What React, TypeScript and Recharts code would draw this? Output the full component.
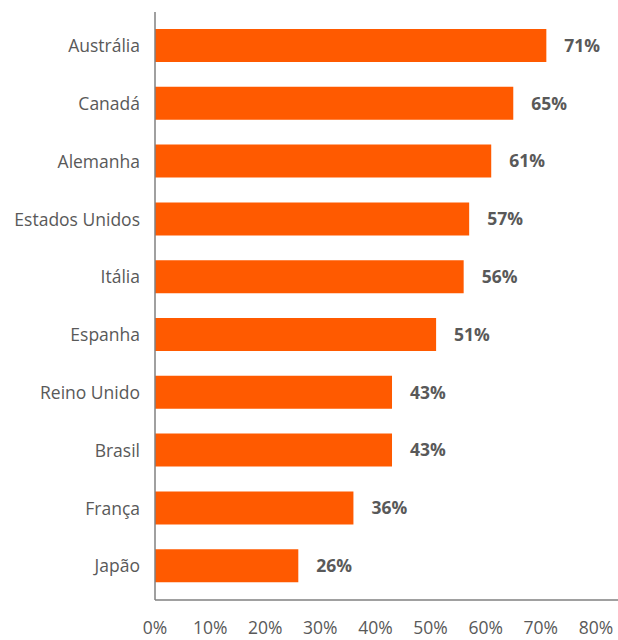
import { BarChart, Bar, XAxis, YAxis, LabelList } from 'recharts';

const countries = [
  'Austrália',
  'Canadá',
  'Alemanha',
  'Estados Unidos',
  'Itália',
  'Espanha',
  'Reino Unido',
  'Brasil',
  'França',
  'Japão',
];
const shares = [71, 65, 61, 57, 56, 51, 43, 43, 36, 26];
const xTicks = [0, 10, 20, 30, 40, 50, 60, 70, 80];

const data = countries.map((name, i) => ({ name, value: shares[i] }));

const FONT = '"Open Sans", "Noto Sans", sans-serif';

export default function App() {
  return (
    <div style={{ position: 'absolute', left: 0, top: 0, width: 618, height: 640, background: '#fff', fontFamily: FONT }}>
      <BarChart
        width={618}
        height={640}
        data={data}
        layout="vertical"
        margin={{ top: 12, right: 0, left: 0, bottom: 0 }}
      >
        <XAxis
          type="number"
          domain={[0, 84]}
          ticks={xTicks}
          height={40}
          tickFormatter={(v: number) => `${v}%`}
          axisLine={{ stroke: '#808080', strokeWidth: 1.5 }}
          tickLine={false}
          tickSize={0}
          tickMargin={22}
          tick={{ fontSize: 17.5, fill: '#595959', fontFamily: FONT }}
          interval={0}
        />
        <YAxis
          type="category"
          dataKey="name"
          width={155}
          padding={{ top: 5, bottom: 5 }}
          axisLine={{ stroke: '#808080', strokeWidth: 1.5 }}
          tickLine={false}
          tickSize={0}
          tickMargin={15}
          tick={{ fontSize: 17.5, fill: '#595959', fontFamily: FONT }}
          interval={0}
        />
        <Bar dataKey="value" fill="#FF5A00" barSize={33} isAnimationActive={false}>
          <LabelList
            dataKey="value"
            position="right"
            offset={18}
            formatter={(v: number) => `${v}%`}
            style={{ fontSize: 17.5, fontWeight: 700, fill: '#595959', fontFamily: FONT }}
          />
        </Bar>
      </BarChart>
    </div>
  );
}
